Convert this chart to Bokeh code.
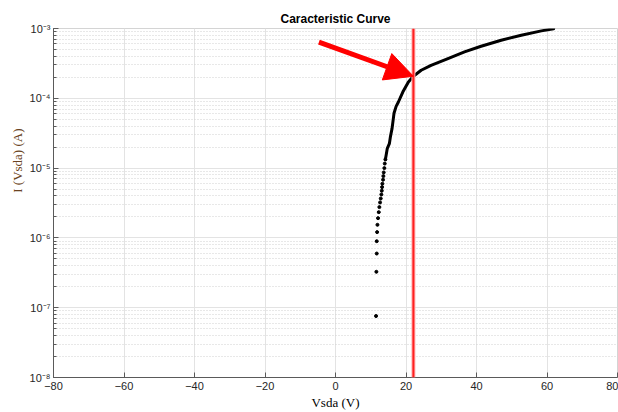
from bokeh.plotting import figure
from bokeh.models import (Arrow, NormalHead, Span, Title, LogTicker, FixedTicker,
                          CustomJSTickFormatter)
from bokeh.embed import file_html
from bokeh.resources import INLINE

# ---- data ----
title_text = "Caracteristic Curve"
x_label = "Vsda (V)"
y_label = "I (Vsda) (A)"

x_ticks = [-80, -60, -40, -20, 0, 20, 40, 60, 80]

# sparse measured points (low current region)
sparse_v = [11.5, 11.6, 11.7, 11.7, 11.8, 11.9, 12.07, 12.27, 12.44, 12.64, 12.84,
            13.01, 13.13, 13.21, 13.30, 13.49, 13.58, 13.69, 13.86, 13.98, 14.15]
sparse_i = [7.6e-8, 3.27e-7, 5.97e-7, 8.97e-7, 1.21e-6, 1.54e-6, 1.92e-6, 2.34e-6,
            2.76e-6, 3.22e-6, 3.67e-6, 4.19e-6, 4.74e-6, 5.34e-6, 5.97e-6, 6.82e-6,
            7.68e-6, 8.67e-6, 1.0e-5, 1.16e-5, 1.33e-5]

# dense measured points (drawn as a thick trace)
dense_v = [14.15, 14.35, 14.7, 15.28, 15.6, 16.05, 16.34, 16.6, 17.2, 17.84, 19.09,
           20.68, 22.1, 24.3, 27.1, 31.9, 36.6, 41.3, 47.0, 52.7, 58.4, 61.9]
dense_i = [1.33e-5, 1.52e-5, 1.92e-5, 2.24e-5, 2.85e-5, 3.71e-5, 4.83e-5, 6.1e-5,
           7.67e-5, 8.85e-5, 1.23e-4, 1.71e-4, 2.07e-4, 2.52e-4, 2.97e-4, 3.71e-4,
           4.62e-4, 5.57e-4, 6.79e-4, 8.0e-4, 9.24e-4, 9.93e-4]

# marker line and arrow
threshold_v = 22.1
arrow_tail = (-4.7, 6.36e-4)
arrow_tip = (22.1, 2.07e-4)

x_range = (-80, 80)
y_range = (1e-8, 1e-3)

# ---- figure ----
p = figure(width=618, height=412, x_range=x_range, y_range=y_range,
           y_axis_type="log", output_backend="svg", toolbar_location=None,
           min_border_left=53, min_border_right=1, min_border_top=28,
           min_border_bottom=35)
p.background_fill_color = "white"
p.border_fill_color = "white"
p.outline_line_color = "#d4d4d4"

# main title
p.title.text = title_text
p.title.align = "center"
p.title.text_font = "Liberation Sans"
p.title.text_font_style = "bold"
p.title.text_font_size = "12px"
p.title.text_color = "black"
p.title.standoff = 5

# left (rotated) axis title, placed in the upper half like the reference
p.add_layout(Title(text=y_label, align="right", offset=100, standoff=4,
                   text_font="Liberation Serif", text_font_style="normal",
                   text_font_size="13px", text_color="#6a4322"), "left")

axis_col = "#5a5a5a"
tick_col = "#262626"

# x axis
p.xaxis.ticker = FixedTicker(ticks=x_ticks)
p.xaxis.axis_line_color = axis_col
p.xaxis.major_tick_line_color = axis_col
p.xaxis.major_tick_in = 5
p.xaxis.major_tick_out = 0
p.xaxis.minor_tick_line_color = None
p.xaxis.major_label_text_font = "Liberation Sans"
p.xaxis.major_label_text_font_size = "11px"
p.xaxis.major_label_text_color = tick_col
p.xaxis.major_label_standoff = 4
p.xaxis.axis_label = x_label
p.xaxis.axis_label_text_font = "Liberation Serif"
p.xaxis.axis_label_text_font_style = "normal"
p.xaxis.axis_label_text_font_size = "13px"
p.xaxis.axis_label_text_color = "black"
p.xaxis.axis_label_standoff = 2

# y axis: 10 with superscript exponent
p.yaxis.ticker = LogTicker(num_minor_ticks=10)
p.yaxis.formatter = CustomJSTickFormatter(code="""
const sup = {'-':'\u207b','0':'\u2070','1':'\u00b9','2':'\u00b2','3':'\u00b3',
             '4':'\u2074','5':'\u2075','6':'\u2076','7':'\u2077','8':'\u2078','9':'\u2079'};
const e = Math.round(Math.log10(tick));
return '10' + String(e).split('').map(c => sup[c]).join('');
""")
p.yaxis.axis_line_color = axis_col
p.yaxis.major_tick_line_color = axis_col
p.yaxis.minor_tick_line_color = axis_col
p.yaxis.major_tick_in = 5
p.yaxis.major_tick_out = 0
p.yaxis.minor_tick_in = 3
p.yaxis.minor_tick_out = 0
p.yaxis.major_label_text_font = "Liberation Sans"
p.yaxis.major_label_text_font_size = "11px"
p.yaxis.major_label_text_color = tick_col
p.yaxis.major_label_standoff = 3

# grids
p.xgrid.ticker = FixedTicker(ticks=x_ticks)
p.xgrid.grid_line_color = "#e3e3e3"
p.ygrid.grid_line_color = "#e3e3e3"
p.ygrid.minor_grid_line_color = "#d0d0d0"
p.ygrid.minor_grid_line_dash = "1 2"

# red vertical line
p.add_layout(Span(location=threshold_v, dimension="height",
                  line_color="#ffb3b3", line_width=4))
p.add_layout(Span(location=threshold_v, dimension="height",
                  line_color="#ff2020", line_width=2))

# curve
p.line(dense_v, dense_i, line_color="black", line_width=3, line_join="round",
       line_cap="round")
p.scatter(sparse_v, sparse_i, size=3, color="black", marker="circle")

# arrow
p.add_layout(Arrow(end=NormalHead(size=28, fill_color="#ff0000", line_color="#ff0000"),
                   x_start=arrow_tail[0], y_start=arrow_tail[1],
                   x_end=arrow_tip[0], y_end=arrow_tip[1],
                   line_color="#ff0000", line_width=5))

open("out.html", "w").write(file_html(p, INLINE))
